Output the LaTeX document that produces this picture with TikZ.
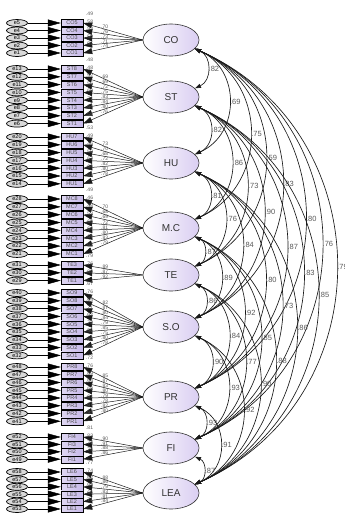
\documentclass[tikz,border=0pt]{standalone}
\usepackage{fontspec}
\setmainfont{Liberation Sans}
\usetikzlibrary{shapes.geometric,arrows.meta,calc}

\definecolor{lavfill}{RGB}{218,206,242}
\definecolor{boxfill}{RGB}{198,184,232}
\definecolor{numgray}{RGB}{90,90,90}

\begin{document}
\begin{tikzpicture}[x=1pt,y=-1pt,
  latent/.style={ellipse,draw=black!80,line width=0.6pt,minimum width=56pt,minimum height=32pt,
    inner sep=0pt,left color=white,right color=lavfill,font=\fontsize{10}{10}\selectfont,text=black!80},
  obsbox/.style={rectangle,draw=black,line width=0.4pt,minimum width=22pt,minimum height=7pt,
    inner sep=0pt,left color=boxfill!55,right color=boxfill,font=\fontsize{5.5}{5.5}\selectfont,text=black!70},
  errnode/.style={ellipse,draw=black,line width=0.7pt,minimum width=21pt,minimum height=7pt,
    inner sep=0pt,fill=black!15,font=\fontsize{5.5}{5.5}\selectfont},
  loadline/.style={draw=black!90,line width=0.5pt,-{Triangle[length=9pt,width=6pt]}},
  errline/.style={draw=black,line width=0.45pt,-{Triangle[length=13pt,width=7pt]}},
  covarc/.style={draw=black!90,line width=0.65pt,{Triangle[length=6pt,width=4pt]}-{Triangle[length=6pt,width=4pt]}},
  covlbl/.style={font=\fontsize{7.5}{7.5}\selectfont,text=numgray,inner sep=0.6pt,anchor=west},
  ldlbl/.style={font=\fontsize{5}{5}\selectfont,text=numgray,inner sep=0.2pt},
]
\useasboundingbox (0,0) rectangle (345,514);
\fill[white] (0,0) rectangle (345,514);

% measurement part: factor, indicators, error terms
\foreach \fid/\flab/\fy/\ytop/\dy/\n/\loads/\efirst/\pre in {
  CO/CO/40/23/7.5/5/{70,76,73,71,74}/5/CO,
  ST/ST/97/69/7.8/8/{69,69,72,75,83,84,80,76}/13/ST,
  HU/HU/163/137/7.8/7/{73,70,68,72,82,80,78}/20/HU,
  MC/M.C/228/199/7.85/8/{70,68,69,72,81,80,83,79}/28/MC,
  TE/TE/275/265/7.8/3/{89,87,92}/31/TE,
  SO/S.O/327/293/7.8/9/{82,87,80,84,79,85,75,80,78}/40/SO,
  PR/PR/397/367/7.75/8/{85,87,83,80,79,78,82,80}/48/PR,
  FI/FI/448/437/7.4/4/{90,91,88,86}/52/FI,
  LEA/LEA/493/472/7.4/6/{88,86,79,83,81,84}/58/LE}{
  \node[latent] (\fid) at (171,\fy) {\flab};
  \foreach \l [count=\k] in \loads {
    \pgfmathsetmacro\yy{\ytop+(\k-1)*\dy}
    \pgfmathtruncatemacro\idx{\n-\k+1}
    \pgfmathtruncatemacro\eid{\efirst-\k+1}
    \pgfmathtruncatemacro\rsq{round(\l*\l/100)}
    \node[obsbox] (b\pre\idx) at (72,\yy) {\pre\idx};
    \node[errnode] (e\eid) at (17,\yy) {e\eid};
    \draw[errline] (e\eid) -- (b\pre\idx);
    \draw[loadline] (\fid.west) -- (b\pre\idx.east)
      node[ldlbl,pos=0.64,anchor=south] {.\l};
    \node[ldlbl,anchor=west] (r\pre\idx) at ($(b\pre\idx.east)+(2.5,-9)$) {.\rsq};
  }
}

% structural part: correlations between the factors
\foreach \a/\b/\v in {
  CO/ST/.82, CO/HU/.69, CO/MC/.75, CO/TE/.59, CO/SO/.83, CO/PR/.80, CO/FI/.76, CO/LEA/.79,
  ST/HU/.82, ST/MC/.86, ST/TE/.73, ST/SO/.90, ST/PR/.87, ST/FI/.83, ST/LEA/.85,
  HU/MC/.81, HU/TE/.76, HU/SO/.84, HU/PR/.80, HU/FI/.73, HU/LEA/.86,
  MC/TE/.87, MC/SO/.89, MC/PR/.92, MC/FI/.85, MC/LEA/.88,
  TE/SO/.86, TE/PR/.84, TE/FI/.77, TE/LEA/.90,
  SO/PR/.90, SO/FI/.93, SO/LEA/.92,
  PR/FI/.93, PR/LEA/.91,
  FI/LEA/.87}{
  \draw[covarc] (\a.-20) .. controls ($(\a.-20)!0.474!66:(\b.20)$)
      and ($(\b.20)!0.474!-66:(\a.-20)$) .. (\b.20)
      node[pos=0.5,covlbl] {\v};
}
\end{tikzpicture}
\end{document}
